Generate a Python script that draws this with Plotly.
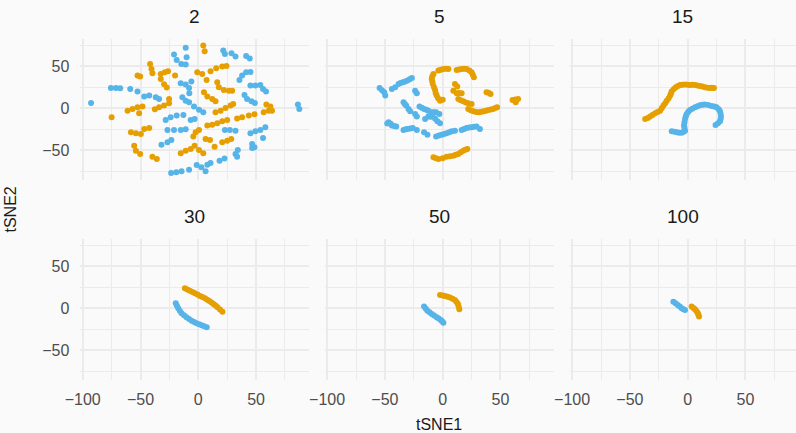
import plotly.graph_objects as go

perplexities = ["2", "5", "15", "30", "50", "100"]

# ---- perplexity 2 ----
blue_x_2 = [-92.8, -10.9, -21, -18.7, -14.7, -10.9, -10.1, 21.6, 23, 28.7, 32.2, 41.4, 44.5,
            35.6, 37.9, 41.4, 45.1, 45.1, 49.4, 53.7, 56, 58.6, 40, 42.2, 46, 48.9, 86.2, 87.4,
            -75.6, -71.3, -67.6, -58.9, -52.6, -46.8, -42.5, -36.8, -33.9,
            -15.2, -10.9, -6, -8, -7.8, -13.8, -10.9, -8, -3.7, 0.6, 4.3, -6.6, -3.2,
            -28.2, -23.9, -18.7, -12.9, -26.7, -21, -15.2, -10.9, -31.9, -26.7, -23.3,
            -23.5, -19, -14.5, -8, -1.4, 2.6, 6.3, 7.8, 10.6, 18.4, 22.7, 32.2, 34.2, 33.6,
            23, 27.3, 32.2, 45.1, 49.4, 53.7, 58, 56, 46.6, 48.6, 46.6]
blue_y_2 = [6.4, 71.9, 63.9, 57.6, 52.8, 52, 60.7, 68.7, 64.7, 65.5, 61.5, 62.3, 59.2,
            33.7, 38.9, 42.9, 43.3, 27, 27, 27.8, 23, 19.9, 15.9, 11.1, 8.3, 6.4, 4.4, -0.8,
            24.2, 24.2, 23.8, 23, 19.9, 13.9, 15.1, 13.1, 11.1,
            29.8, 28.2, 31.8, 24.2, 17.9, 13.1, 9.1, 7.1, 2, -1.6, -4.8, -13.9, -12.7,
            -13.9, -10.7, -8.7, -7.9, -25.8, -25.8, -25.8, -25.0, -43.3, -40.5, -37.7,
            -77, -76, -75, -73, -67.5, -70.3, -75, -67.1, -65.1, -62.3, -59.9, -54.4, -49.6, -57.6,
            -25.8, -25.8, -26.6, -29.8, -27.4, -25.8, -22.6, -35.3, -42.5, -46.4, -47.2]
orange_x_2 = [4.3, 5.5, -41.7, -40.5, -39.7, -52.6, -50.3, -32.5, -29, -26.2, -32.5, -29.6, -27.3,
              -20.1, -0.9, 3.4, 7.2, 10.6, 15.5, 20.7, 24.4, 16.4, 17.8, 22.1, 26.4, 29.3,
              4.9, 7.8, 12.1, 14.9, -25.3, -25.3, -29.6, -33.9, -37.6,
              -61.2, -56.9, -52.6, -48.3, -51.2, -75, 14.9, 19.3, 23.6, 27.9, 30.2,
              7.8, 12.1, 16.4, 20.7, 25, 33.6, 37.9, 43.7, 48.6, 56.6, 60.9, 63.8, 58.9, 62.4,
              -58.3, -54, -49.7, -46.8, -42.5, -55.5, -54, -50.3, -39.7, -35.9,
              -15.2, -10.9, -6.6, -3.2, 0.6, 4.3, -4.3, -2.3, 0.6, 6.3, 10.1, 14.1, 20.7, 25, 28.5]
orange_y_2 = [74.6, 67.9, 52.8, 46.8, 41.7, 38.9, 37.7, 40.9, 42.9, 44.1, 34.9, 28.6, 24.6,
              38.9, 42.9, 40.9, 33.7, 44.1, 47.6, 49.6, 50.4, 31, 25, 21.8, 21, 21,
              19.1, 13.9, 11.1, 8.3, 11.1, 6, 3.2, 1.2, -1.2,
              -2.8, -0.8, 1.2, 2, -6, -10.7, -4.8, -2.8, 0.4, 3.2, 5.2,
              -20.6, -19.5, -17.9, -15.5, -13.9, -12.3, -10.7, -8.7, -7.1, -4.8, -2.8, -2.8, 4.4, 2,
              -28.6, -29.8, -30.6, -24.6, -23.4, -44.5, -50.4, -54.4, -57.6, -60.3,
              -53.6, -50.4, -48.4, -44.5, -49.6, -53.6, -33.7, -28.6, -25.8, -36.5, -37.7, -45.7, -40.5, -38.5, -36.5]

# ---- perplexity 5 ----
blue_x_5 = [-54.6, -52.5, -50.6, -49.7, -44, -41.1, -38.2, -36.5, -34.5, -32.5, -30.5, -28.5, -26.7,
            -23.9, -22.4, -33.9, -32.8, -31.6, -29.6, -28.2, -23.9, -22.4,
            -20.1, -18, -16.1, -14.2, -12.4, -9.5, -7.5, -5.7, -2.9,
            -15.2, -12.4, -10.5, -8.6, -6.5, -4.6, -2.3,
            -48, -46.8, -45, -44, -42, -40.2, -33.9, -32, -30.5, -28, -25.9, -22.4,
            -16.1, -13.2, -5.7, -3.3, -0.9, 1.2, 3.4, 5.6, 7.8, 10.6,
            16.4, 18.5, 20.7, 23, 25, 27.2, 29.3, 32.2]
blue_y_5 = [24.2, 21.5, 19.1, 15.1, 23, 25, 29, 30, 31, 32, 33, 34.5, 36.1,
            21, 17.9, 7.1, 5.2, 3.2, -0.8, -3.6, -6.7, -9.9,
            2, 0.6, -0.8, -1.8, -2.8, -4.8, -4.6, -4.8, -6.7,
            -12.7, -9.9, -10.2, -9.9, -12.5, -15.5, -17.9,
            -18, -16.7, -18.5, -20.6, -21, -21.8, -25.8, -25, -24.6, -24, -23.4, -25.8,
            -28.6, -31.4, -33.7, -32.4, -31.4, -30.5, -29.8, -28.5, -27.4, -26.6,
            -25.8, -24.5, -23.4, -23, -22.6, -22, -21.8, -24.6]
orange_x_5 = [-8, -9, -9.5, -9, -8.6, -7.5, -6.6, -6, -5.2, -4, -2.3, 0,
              -3.7, -1.5, 0.6, 2.8, 4.9, 12.1, 14.2, 16.4, 18.5, 20.7, 23, 25, 26, 27,
              10.6, 12.6, 9.2, 12.1, 14.2, 16.4,
              13.5, 15.6, 17.8, 20, 22.1, 25, 22.1, 24.2, 26.4, 29, 31.6, 33.6, 35.6, 37.5, 39.4, 41.5, 43.7, 45.5, 47.1,
              37.9, 39.6, 41.4, 60.4, 62.8, 65.2, 63.2,
              -8, -5.8, -3.7, 0, 3.4, 6.3, 9.2, 11.3, 13.5, 15.7, 17.8, 19.6, 21.3]
orange_y_5 = [40.9, 38, 34.9, 32, 29, 25, 21.8, 18, 15.1, 12, 9.1, 10.3,
              44.9, 46, 46.8, 47, 46.8, 45.7, 46.3, 46.8, 47, 46.8, 45, 42.9, 40, 36.9,
              29, 25.8, 21, 17.9, 18.2, 17.9,
              11.1, 9.6, 8.3, 7, 6, 5.2, -0.8, -2.2, -3.6, -4.3, -4.8, -4.2, -3.6, -2.8, -2, -1.4, -0.8, 0.2, 1.2,
              19.1, 18.4, 17.1, 9.9, 10.5, 11.1, 7.1,
              -58.4, -59.5, -60.3, -59.5, -57.6, -57, -56.4, -55.4, -54.4, -52.4, -50.4, -49.3, -48.4]

# ---- perplexity 15 ----
blue_x_15 = [-13.8, -11.5, -9.5, -7.5, -5.2, -3.5, -2.3, -2.8, -3.2, -2.8, -2.3, -1.6, -0.9, 0.5, 2,
             4, 6.3, 8.5, 10.6, 12.8, 14.9, 17.8, 20.7, 23, 25, 26.8, 27.9, 28.5, 28.7, 28.5, 27.9, 26.2, 24.1]
blue_y_15 = [-27.4, -28, -28.6, -29, -29, -28, -26.6, -23.5, -20.6, -16.5, -12.7, -9.5, -6.7, -4.2, -2,
             -0.4, 1.2, 2.5, 3.6, 4.2, 4.4, 3.8, 2.8, 2, 1.2, -1, -3.6, -6.8, -9.9, -12.8, -15.5, -17.8, -19.9]
orange_x_15 = [-36.8, -34.5, -32.5, -30.5, -28.2, -26, -23.9, -22.5, -21, -19.5, -18.1, -16.5, -15.2,
               -14.5, -13.8, -12, -10.3, -8.5, -6.6, -4.5, -2.3, 0, 2, 4, 6.3, 8.5, 10.6, 12.8, 14.9,
               17, 19.3, 21, 22.7]
orange_y_15 = [-12.7, -11.5, -9.9, -8, -6, -4.5, -2.8, 0, 3.2, 6, 9.1, 12, 15.1,
               17.5, 20.2, 23, 25, 26.5, 27.8, 28, 28.2, 28, 27.8, 28, 27.8, 27.2, 26.6, 25.8, 25,
               24.5, 24.2, 24.3, 24.2]

# ---- perplexity 30 ----
blue_x_30 = [-19.5, -18.5, -17.4, -16, -14.5, -12.4, -10.2, -8, -5.8, -3.6, -1.5, 0.7, 2.9, 5.1, 7.3]
blue_y_30 = [6, 3, 0, -3, -6, -8.4, -10.7, -12.7, -14.7, -16.3, -17.9, -19, -20.2, -21.4, -22.6]
orange_x_30 = [-11.6, -9.5, -7.3, -5.1, -2.9, -0.7, 1.5, 3.6, 5.8, 7.7, 9.6, 11.4, 13.1, 14.9, 16.6, 18.8, 20.9]
orange_y_30 = [23.8, 22.4, 21, 19.5, 17.9, 16.3, 14.7, 13.3, 11.9, 10.3, 8.7, 7, 5.2, 3.2, 1.2, -1.4, -4]

# ---- perplexity 50 ----
blue_x_50 = [-16.1, -14.6, -13.2, -11.4, -9.5, -7.4, -5.2, -3.5, -1.7, -0.5, 0.6]
blue_y_50 = [2, -0.4, -2.8, -4.8, -6.7, -8.7, -10.7, -12.3, -13.9, -15.5, -17.1]
orange_x_50 = [-2.3, 0, 2, 4.2, 6.3, 8.5, 10.6, 12, 13.2, 13.8, 14.4]
orange_y_50 = [15.9, 15.3, 14.7, 13.7, 12.7, 11.3, 9.9, 7.5, 5.2, 2, -1.2]

# ---- perplexity 100 ----
blue_x_100 = [-12.4, -10.5, -8.6, -6.9, -5.2, -3.7, -2.3]
blue_y_100 = [7.9, 6, 4, 2, 0, -1, -2]
orange_x_100 = [3.4, 4.9, 6.3, 7.5, 8.6, 9.2, 9.8]
orange_y_100 = [2, 0.4, -1.2, -3.2, -5.2, -7.5, -9.9]

blue_x = [blue_x_2, blue_x_5, blue_x_15, blue_x_30, blue_x_50, blue_x_100]
blue_y = [blue_y_2, blue_y_5, blue_y_15, blue_y_30, blue_y_50, blue_y_100]
orange_x = [orange_x_2, orange_x_5, orange_x_15, orange_x_30, orange_x_50, orange_x_100]
orange_y = [orange_y_2, orange_y_5, orange_y_15, orange_y_30, orange_y_50, orange_y_100]

BLUE = "#56B4E9"
ORANGE = "#E69F00"
BG = "#FAFAFA"
GRID = "#EBEBEB"
FONT = "Liberation Sans, Arial, sans-serif"

W, H = 796, 433
col_px = [(80.4, 309.2), (324.8, 553.6), (569.8, 796.0)]
row_px = [(38.8, 180.3), (238.8, 380.3)]
px_per_unit = 1.1556
zero_px = [198.3, 442.7, 687.7]

fig = go.Figure()
annotations = []
for i, p in enumerate(perplexities):
    r, c = divmod(i, 3)
    n = i + 1
    xa = "x" if n == 1 else f"x{n}"
    ya = "y" if n == 1 else f"y{n}"
    for xs, ys, col in ((blue_x[i], blue_y[i], BLUE), (orange_x[i], orange_y[i], ORANGE)):
        fig.add_trace(go.Scatter(x=xs, y=ys, mode="markers", xaxis=xa, yaxis=ya,
                                 marker=dict(color=col, size=6, line=dict(width=0)),
                                 showlegend=False, hoverinfo="skip"))
    x0, x1 = col_px[c]
    y0, y1 = row_px[r]
    xr = [(x0 - zero_px[c]) / px_per_unit, (x1 - zero_px[c]) / px_per_unit]
    xkey = "xaxis" if n == 1 else f"xaxis{n}"
    ykey = "yaxis" if n == 1 else f"yaxis{n}"
    fig.layout[xkey] = dict(
        domain=[x0 / W, x1 / W], range=xr, anchor=ya, dtick=50, tick0=0, automargin=False,
        showgrid=True, gridcolor=GRID, gridwidth=2, zeroline=False, showline=False,
        minor=dict(dtick=25, tick0=0, showgrid=True, gridcolor=GRID, gridwidth=1),
        showticklabels=(r == 1), ticks="", ticklabelstandoff=8,
        tickfont=dict(family=FONT, size=16, color="#4D4D4D"), fixedrange=True)
    fig.layout[ykey] = dict(
        domain=[1 - y1 / H, 1 - y0 / H], range=[-85.7, 82.7], anchor=xa, dtick=50, tick0=0,
        automargin=False,
        showgrid=True, gridcolor=GRID, gridwidth=2, zeroline=False, showline=False,
        minor=dict(dtick=25, tick0=0, showgrid=True, gridcolor=GRID, gridwidth=1),
        showticklabels=(c == 0), ticks="", ticklabelstandoff=10,
        tickfont=dict(family=FONT, size=16, color="#4D4D4D"), fixedrange=True)
    annotations.append(dict(text=p, x=(x0 + x1) / 2 / W, y=1 - (y0 - 22) / H,
                            xref="paper", yref="paper", showarrow=False,
                            xanchor="center", yanchor="middle",
                            font=dict(family=FONT, size=19, color="#1A1A1A")))

annotations.append(dict(text="tSNE1", x=439.5 / W, y=1 - 424 / H, xref="paper", yref="paper",
                        showarrow=False, xanchor="center", yanchor="middle",
                        font=dict(family=FONT, size=16, color="#1A1A1A")))
annotations.append(dict(text="tSNE2", x=10 / W, y=1 - 209.5 / H, xref="paper", yref="paper",
                        showarrow=False, xanchor="center", yanchor="middle", textangle=-90,
                        font=dict(family=FONT, size=16, color="#1A1A1A")))

fig.update_layout(width=W, height=H, margin=dict(l=0, r=0, t=0, b=0, autoexpand=False),
                  paper_bgcolor=BG, plot_bgcolor=BG, annotations=annotations,
                  hovermode=False, dragmode=False)

fig.write_html("out.html", config={"displayModeBar": False, "staticPlot": True},
               post_script="document.body.style.margin='0';document.body.style.background='#FAFAFA';"
                           "document.documentElement.style.overflow='hidden';")
